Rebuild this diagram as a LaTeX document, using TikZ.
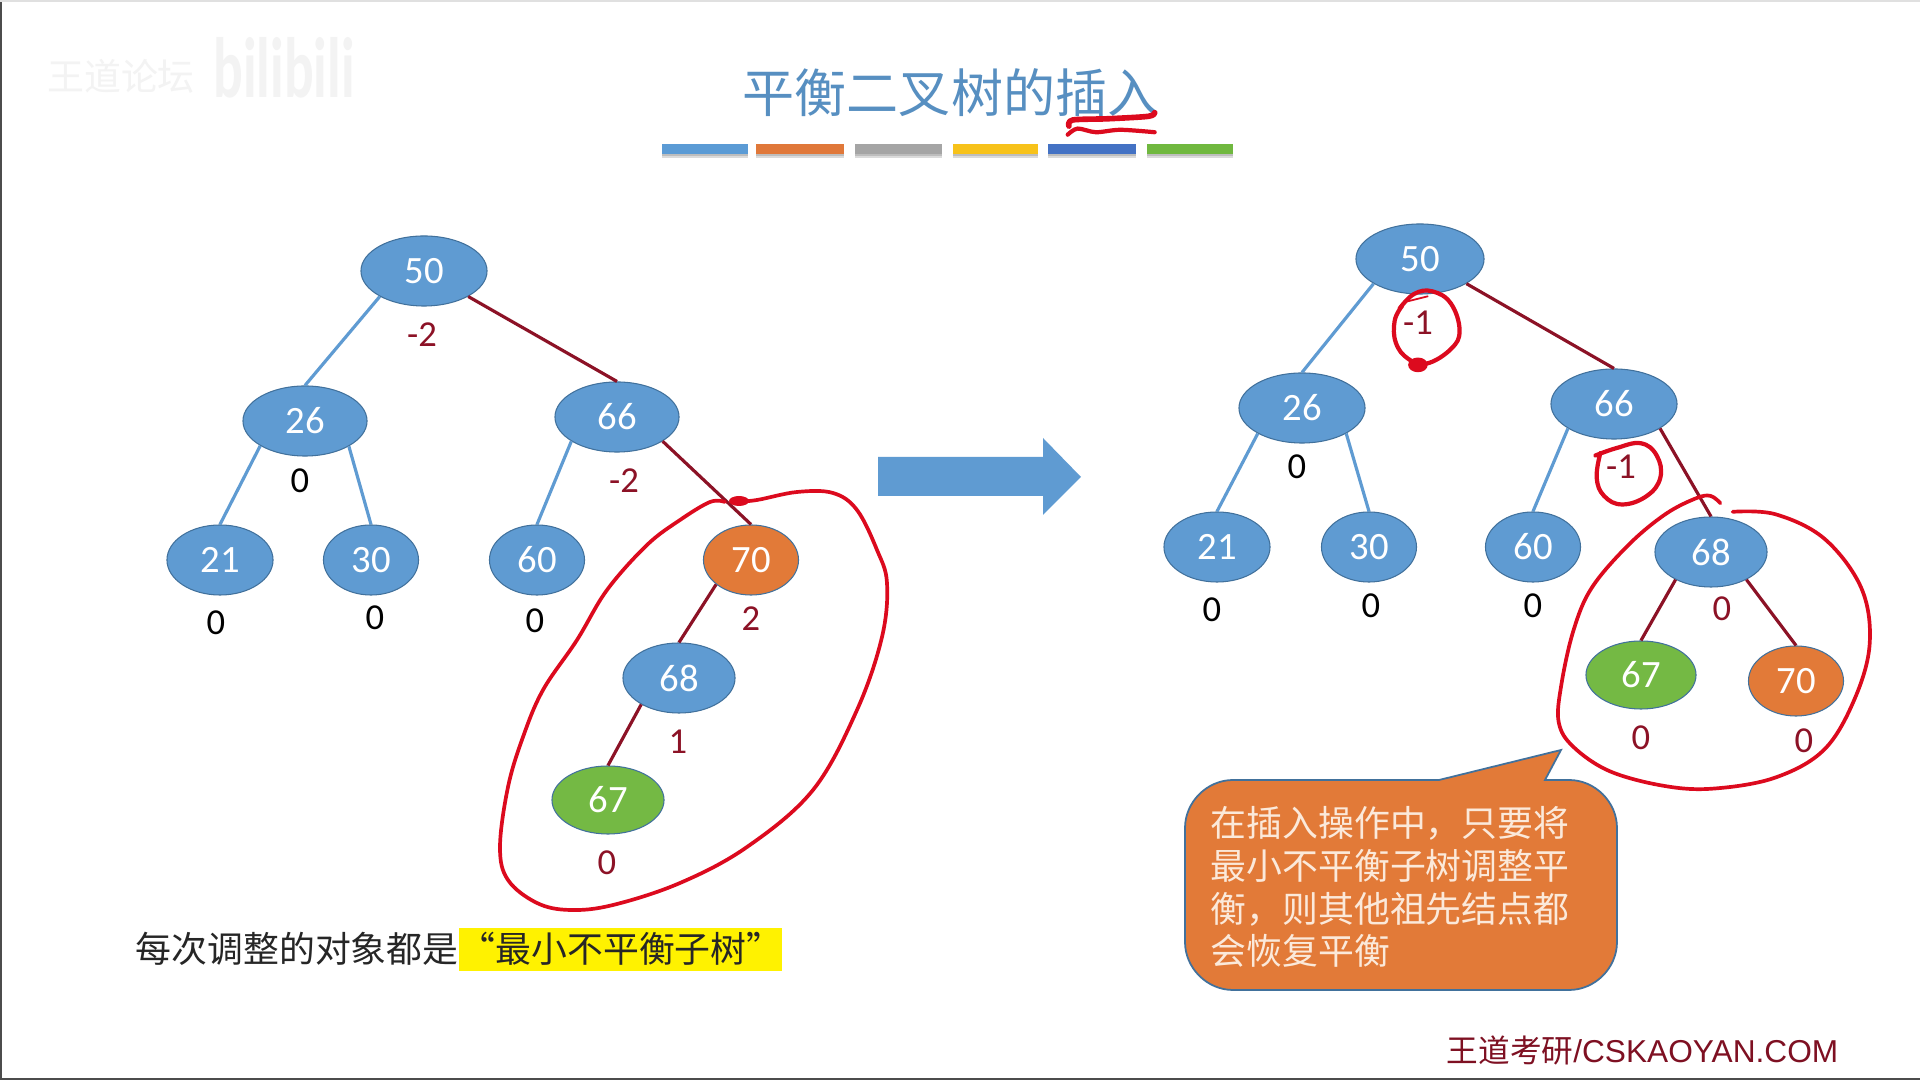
\documentclass[tikz,border=0pt]{standalone}
\usepackage{fontspec}
\setmainfont{Carlito}
\newfontfamily\cjk{Noto Sans CJK SC}
\newfontfamily\arialfont{Liberation Sans}
\usetikzlibrary{shapes.geometric}
\definecolor{nblue}{HTML}{5F9BD2}
\definecolor{norange}{HTML}{E27A38}
\definecolor{ngreen}{HTML}{74B944}
\definecolor{nedge}{HTML}{41719C}
\definecolor{dred}{HTML}{8C1226}
\definecolor{inkred}{HTML}{DC0A1E}
\definecolor{ledge}{HTML}{5F9BD2}
\definecolor{cream}{HTML}{FBE9DA}
\definecolor{wm}{HTML}{F3F3F3}
\tikzset{
  tnode/.style={ellipse,draw=nedge,line width=.3pt,inner sep=0pt,text=white,font=\fontsize{11}{12}\selectfont},
  big/.style={tnode,minimum width=1.26cm,minimum height=.7cm},
  mid/.style={tnode,minimum width=1.06cm,minimum height=.7cm},
  sma/.style={tnode,minimum width=.95cm,minimum height=.7cm},
  fb/.style={fill=nblue},fo/.style={fill=norange},fg/.style={fill=ngreen},
  lb/.style={text=black,inner sep=0pt,font=\fontsize{10.4}{12}\selectfont},
  lr/.style={text=dred,inner sep=0pt,font=\fontsize{10.4}{12}\selectfont},
  be/.style={draw=ledge,line width=.9pt},
  re/.style={draw=dred,line width=.9pt},
  ink/.style={draw=inkred,line width=1.05pt,line cap=round,line join=round},
  cjkt/.style={inner sep=0pt,font=\cjk\fontsize{10.2}{12}\selectfont,anchor=west},
}
\begin{document}
\begin{tikzpicture}[x=.01cm,y=-.01cm]
\useasboundingbox (0,0) rectangle (1920,1080);
\fill[white] (0,0) rectangle (1920,1080);
\draw[black!70,line width=.5pt] (1,0) -- (1,1079) -- (1920,1079);
\draw[black!12,line width=.4pt] (0,1) -- (1920,1);
% watermark
\node[text=wm,inner sep=0pt,font=\cjk\fontsize{10.5}{12}\selectfont] (wmcn) at (121,76) {王道论坛};
\node[text=wm,inner sep=0pt] (wmbili) at (284,68) {\resizebox{1.41cm}{.6cm}{\bfseries bilibili}};
% title
\node[text=nblue!92!black,inner sep=0pt,font=\cjk\fontsize{14.8}{16}\selectfont] (title) at (951,93) {平衡二叉树的插入};
% bars
\foreach \a/\b/\c in {662/748/5B9BD5,756/844/E0783A,855/942/A5A5A5,953/1038/F7C21A,1048/1136/4472C4,1147/1233/70B83F}{
  \fill[black!14] (\a,150) rectangle (\b,158);
  \fill[black!26] (\a,150) rectangle (\b,156);
  \definecolor{barc}{HTML}{\c}
  \fill[barc] (\a,144) rectangle (\b,154);
}
% left tree
\node[big,fb] (a50) at (424,271) {50};
\node[big,fb,minimum width=1.24cm] (a26) at (305,421) {26};
\node[big,fb,minimum width=1.24cm] (a66) at (617,417) {66};
\node[mid,fb] (a21) at (220,560) {21};
\node[sma,fb] (a30) at (371,560) {30};
\node[sma,fb] (a60) at (537,560) {60};
\node[sma,fo] (a70) at (751,560) {70};
\node[mid,fb,minimum width=1.12cm] (a68) at (679,678) {68};
\node[mid,fg,minimum width=1.12cm,minimum height=.68cm] (a67) at (608,800) {67};
\draw[be] (a50.210) -- (a26.north);
\draw[re] (a50.330) -- (a66.north);
\draw[be] (a26.209) -- (a21.north);
\draw[be] (a26.330) -- (a30.north);
\draw[be] (a66.208) -- (a60.north);
\draw[re] (a66.332) -- (a70.north);
\draw[re] (a70.215) -- (a68.north);
\draw[re] (a68.215) -- (a67.north);
\node[lr] (la50) at (422,335) {-2};
\node[lb] (la26) at (300,481) {0};
\node[lr] (la66) at (624,481) {-2};
\node[lb] (la21) at (216,623) {0};
\node[lb] (la30) at (375,618) {0};
\node[lb] (la60) at (535,621) {0};
\node[lr] (la70) at (751,619) {2};
\node[lr] (la68) at (678,742) {1};
\node[lr] (la67) at (607,863) {0};
% right tree
\node[big,fb,minimum width=1.28cm] (b50) at (1420,259) {50};
\node[big,fb] (b26) at (1302,408) {26};
\node[big,fb] (b66) at (1614,404) {66};
\node[mid,fb] (b21) at (1217,547) {21};
\node[sma,fb] (b30) at (1369,547) {30};
\node[sma,fb] (b60) at (1533,547) {60};
\node[mid,fb,minimum width=1.12cm] (b68) at (1711,552) {68};
\node[mid,fg,minimum width=1.1cm,minimum height=.68cm] (b67) at (1641,675) {67};
\node[sma,fo] (b70) at (1796,681) {70};
\draw[be] (b50.208) -- (b26.north);
\draw[re] (b50.332) -- (b66.north);
\draw[be] (b26.210) -- (b21.north);
\draw[be] (b26.330) -- (b30.north);
\draw[be] (b66.208) -- (b60.north);
\draw[re] (b66.332) -- (b68.north);
\draw[re] (b68.218) -- (b67.north);
\draw[re] (b68.322) -- (b70.north);
\node[lr] (lb50) at (1418,323) {-1};
\node[lb] (lb26) at (1297,467) {0};
\node[lr] (lb66) at (1621,467) {-1};
\node[lb] (lb21) at (1212,610) {0};
\node[lb] (lb30) at (1371,606) {0};
\node[lb] (lb60) at (1533,606) {0};
\node[lr] (lb68) at (1722,609) {0};
\node[lr] (lb67) at (1641,738) {0};
\node[lr] (lb70) at (1804,741) {0};
% block arrow
\fill[nblue] (878,457) -- (1043,457) -- (1043,438) -- (1081,477) -- (1043,515) -- (1043,496) -- (878,496) -- cycle;
% callout
\draw[fill=norange,draw=nedge,line width=.5pt]
  (1439,780) -- (1233,780) .. controls (1207,780) and (1185,802) .. (1185,828)
  -- (1185,942) .. controls (1185,968) and (1207,990) .. (1233,990)
  -- (1569,990) .. controls (1595,990) and (1617,968) .. (1617,942)
  -- (1617,828) .. controls (1617,802) and (1595,780) .. (1569,780)
  -- (1545,780) -- (1561,750) -- cycle;
\node[cjkt,text=cream] (c1) at (1210,823) {在插入操作中，只要将};
\node[cjkt,text=cream] (c2) at (1210,866) {最小不平衡子树调整平};
\node[cjkt,text=cream] (c3) at (1210,909) {衡，则其他祖先结点都};
\node[cjkt,text=cream] (c4) at (1210,951) {会恢复平衡};
% bottom texts
\fill[yellow] (459,928) rectangle (782,971);
\node[cjkt,text=black!85] (t1) at (135,949) {每次调整的对象都是};
\node[cjkt,text=black!85] (t2) at (459,949) {“最小不平衡子树”};
\node[inner sep=0pt,anchor=west,text=dred!90!black,font=\fontsize{9}{10}\selectfont] (brand) at (1446,1050) {{\cjk 王道考研}{\arialfont /CSKAOYAN.COM}};
% ink
\draw[ink] plot[smooth,tension=.6] coordinates {(725,502) (710,502) (680,520) (647,545) (607,590) (577,640) (543,690) (523,737) (508,787) (500,847) (508,880) (537,903) (570,910) (613,905) (680,883) (747,847) (813,790) (857,710) (882,637) (887,583) (877,550) (857,510) (833,493) (797,492) (757,500) (735,502)};
\fill[inkred] (739,501) ellipse (10 and 5);
\begin{scope}[x=.012245cm,y=-.012245cm]
\draw[ink] plot[smooth,tension=.6] coordinates {(1405,411) (1397,405) (1385,407) (1360,420) (1330,445) (1300,480) (1285,515) (1275,560) (1273,590) (1285,610) (1315,630) (1360,642) (1400,644) (1450,635) (1490,612) (1515,570) (1527,525) (1520,480) (1490,440) (1450,420) (1415,418)};
\draw[ink,line width=1.2pt] plot[smooth,tension=.7] coordinates {(1143,252) (1155,240) (1170,238) (1185,248) (1192,270) (1185,285) (1165,297) (1150,293) (1140,280) (1139,262) (1145,250)};
\draw[ink,line width=.5pt] (1150,246) -- (1166,242);
\fill[inkred] (1158,298) ellipse (8 and 6);
\draw[ink,line width=1.2pt] plot[smooth,tension=.7] coordinates {(1303,372) (1320,366) (1340,362) (1353,372) (1356,390) (1345,405) (1325,412) (1310,405) (1304,390) (1307,370)};
\draw[ink,line width=1.6pt] plot[smooth] coordinates {(873,103) (876,98) (905,97) (938,95) (943,92)};
\draw[ink,line width=1.2pt] plot[smooth] coordinates {(872,110) (880,105) (895,108) (915,106) (943,108)};
\end{scope}
\end{tikzpicture}
\end{document}
